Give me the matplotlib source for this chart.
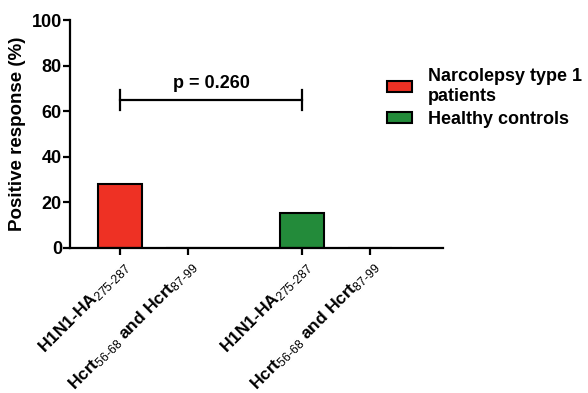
import matplotlib
matplotlib.use('Agg')
import matplotlib.pyplot as plt
from matplotlib.patches import Patch

plt.rcParams['font.family'] = ['Liberation Sans', 'DejaVu Sans']
plt.rcParams['mathtext.fontset'] = 'custom'
plt.rcParams['mathtext.rm'] = 'Liberation Sans'
plt.rcParams['mathtext.it'] = 'Liberation Sans'

# data
positions = [0, 1, 2.68, 3.68]
tick_labels = [r'H1N1-HA$_{\mathrm{275\text{-}287}}$',
               r'Hcrt$_{\mathrm{56\text{-}68}}$ and Hcrt$_{\mathrm{87\text{-}99}}$',
               r'H1N1-HA$_{\mathrm{275\text{-}287}}$',
               r'Hcrt$_{\mathrm{56\text{-}68}}$ and Hcrt$_{\mathrm{87\text{-}99}}$']
values = [28, 0, 15.5, 0]
groups = ['Narcolepsy type 1\npatients', 'Healthy controls']
red = '#EE3124'
green = '#238B3A'
colors = [red, red, green, green]
p_text = 'p = 0.260'
bracket_y = 65

fig = plt.figure(figsize=(5.88, 3.93), dpi=100)
ax = fig.add_axes([0.119, 0.369, 0.634, 0.580])

ax.bar(positions, values, width=0.65, color=colors, edgecolor='black', linewidth=1.5)

ax.set_xlim(-0.74, 4.75)
ax.set_ylim(0, 100)
ax.set_yticks([0, 20, 40, 60, 80, 100])
ax.set_xticks(positions)
ax.set_xticklabels(tick_labels, rotation=45, ha='right', rotation_mode='anchor',
                   fontweight='bold', fontsize=12.5)
for lab in ax.get_yticklabels():
    lab.set_fontweight('bold')
    lab.set_fontsize(13)
ax.set_ylabel('Positive response (%)', fontweight='bold', fontsize=13.5, labelpad=4)

for s in ['top', 'right']:
    ax.spines[s].set_visible(False)
for s in ['left', 'bottom']:
    ax.spines[s].set_linewidth(1.6)
ax.tick_params(width=1.6, length=5)
ax.tick_params(axis='y', pad=0.8)
ax.tick_params(axis='x', pad=2)

# significance bracket
x0, x1 = positions[0], positions[2]
ax.plot([x0, x1], [bracket_y, bracket_y], color='black', lw=1.6)
ax.plot([x0, x0], [bracket_y - 4.5, bracket_y + 4.5], color='black', lw=1.6)
ax.plot([x1, x1], [bracket_y - 4.5, bracket_y + 4.5], color='black', lw=1.6)
ax.text((x0 + x1) / 2, bracket_y + 3.5, p_text, ha='center', va='bottom',
        fontweight='bold', fontsize=13)

handles = [Patch(facecolor=red, edgecolor='black', linewidth=1.5, label=groups[0]),
           Patch(facecolor=green, edgecolor='black', linewidth=1.5, label=groups[1])]
leg = fig.legend(handles=handles, loc='upper left', bbox_to_anchor=(0.63, 0.868),
                 frameon=False, prop={'weight': 'bold', 'size': 13},
                 handlelength=1.4, handleheight=0.55, handletextpad=0.9, labelspacing=0.35)

fig.savefig('out.png', dpi=100)
